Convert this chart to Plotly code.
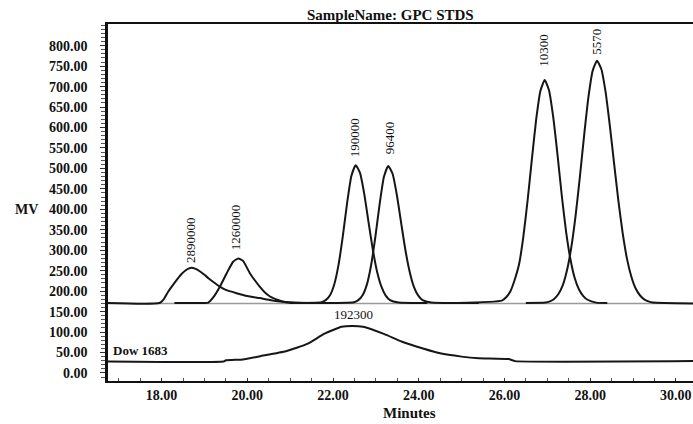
import plotly.graph_objects as go

# ---------------- data (minutes, MV) ----------------
baseline_x = [16.75, 30.40]
baseline_y = [170, 170]

p1_x = [16.75, 17.95, 18.05, 18.15, 18.25, 18.35, 18.45, 18.55, 18.63, 18.70, 18.78, 18.90, 19.00, 19.10,
        19.20, 19.36, 19.50, 19.75, 20.00, 20.29, 20.55, 20.83, 21.10, 21.40, 22.00]
p1_y = [171, 171, 180, 198, 213, 227, 240, 250, 255, 257, 255, 248, 240, 231,
        223, 211, 203, 195, 188, 183, 178, 174, 172, 171, 171]

p2_x = [18.30, 19.00, 19.09, 19.20, 19.36, 19.52, 19.67, 19.79, 19.90, 20.06, 20.18, 20.29, 20.40, 20.53,
        20.70, 20.84, 21.10, 21.80]
p2_y = [171, 171, 172, 184, 211, 244, 272, 280, 274, 244, 226, 211, 198, 187,
        179, 174, 171, 171]

p3_x = [21.00, 21.73, 21.83, 21.93, 22.03, 22.13, 22.23, 22.33, 22.43, 22.53, 22.63, 22.73, 22.83, 22.93,
        23.03, 23.13, 23.23, 23.33, 23.53, 24.20]
p3_y = [171, 173, 178, 190, 217, 265, 335, 416, 482, 508, 489, 437, 368, 301,
        247, 211, 189, 178, 172, 171]

p4_x = [21.60, 22.49, 22.59, 22.69, 22.79, 22.89, 22.99, 23.09, 23.19, 23.29, 23.39, 23.49, 23.59, 23.69,
        23.79, 23.89, 23.99, 24.09, 24.29, 25.40]
p4_y = [171, 173, 178, 190, 216, 264, 334, 414, 480, 506, 487, 435, 367, 300,
        247, 210, 189, 178, 172, 171]

p5_x = [24.90, 25.94, 26.04, 26.14, 26.24, 26.34, 26.44, 26.54, 26.64, 26.74, 26.84, 26.94, 27.04, 27.14,
        27.24, 27.34, 27.44, 27.54, 27.64, 27.74, 27.84, 27.94, 28.14, 28.40]
p5_y = [171, 177, 185, 200, 228, 265, 332, 421, 522, 619, 690, 716, 691, 624,
        532, 432, 344, 278, 232, 204, 188, 179, 172, 171]

p6_x = [26.50, 26.96, 27.06, 27.16, 27.26, 27.36, 27.46, 27.56, 27.66, 27.76, 27.86, 27.96, 28.06, 28.16,
        28.26, 28.36, 28.46, 28.56, 28.66, 28.76, 28.86, 28.96, 29.06, 29.16, 29.26, 29.36, 29.46, 30.40]
p6_y = [171, 172, 175, 181, 193, 214, 251, 307, 384, 479, 581, 674, 739, 763,
        743, 687, 604, 511, 420, 341, 279, 236, 207, 190, 180, 175, 172, 170]

dow_x = [16.75, 19.45, 19.50, 19.90, 20.30, 20.90, 21.40, 21.80, 22.20, 22.45, 22.70, 23.20, 23.60, 24.10,
         24.50, 25.00, 25.40, 26.10, 26.25, 30.40]
dow_y = [28, 28, 31, 33, 41, 53, 71, 96, 113, 115, 113, 95, 77, 60,
         48, 40, 36, 34, 29, 29]

peak_labels = ["2890000", "1260000", "190000", "96400", "10300", "5570"]
peak_label_x = [18.66, 19.71, 22.49, 23.31, 26.92, 28.13]
peak_label_y = [325, 356, 574, 574, 790, 809]
dow_peak_label = "192300"
dow_peak_label_x = 22.47
dow_peak_label_y = 142

x_tick_vals = [18, 20, 22, 24, 26, 28, 30]
y_tick_vals = list(range(0, 801, 50))

# ---------------- figure ----------------
SERIF = "Liberation Serif, Times New Roman, serif"
LINE = dict(color="#161616", width=2)

fig = go.Figure()
fig.add_trace(go.Scatter(x=baseline_x, y=baseline_y, mode="lines",
                         line=dict(color="#9a9a9a", width=1.5), hoverinfo="skip"))
for xs, ys in [(p1_x, p1_y), (p2_x, p2_y), (p3_x, p3_y), (p4_x, p4_y), (p5_x, p5_y), (p6_x, p6_y)]:
    fig.add_trace(go.Scatter(x=xs, y=ys, mode="lines", line=dict(shape="spline", smoothing=0.5, **LINE)))
fig.add_trace(go.Scatter(x=dow_x, y=dow_y, mode="lines", line=dict(shape="spline", smoothing=0.4, **LINE)))

annotations = []
for t, ax, ay in zip(peak_labels, peak_label_x, peak_label_y):
    annotations.append(dict(x=ax, y=ay, text=t, showarrow=False, textangle=-90,
                            xanchor="center", yanchor="middle",
                            font=dict(family=SERIF, size=13, color="#111")))
annotations.append(dict(x=dow_peak_label_x, y=dow_peak_label_y, text=dow_peak_label, showarrow=False,
                        xanchor="center", yanchor="middle",
                        font=dict(family=SERIF, size=13, color="#111")))
annotations.append(dict(x=16.82, y=54.5, text="<b>Dow 1683</b>", showarrow=False,
                        xanchor="left", yanchor="middle",
                        font=dict(family=SERIF, size=13, color="#111")))
annotations.append(dict(x=0.483, y=1.025, xref="paper", yref="paper", text="<b>SampleName: GPC STDS</b>",
                        showarrow=False, xanchor="center", yanchor="middle",
                        font=dict(family=SERIF, size=15, color="#111")))
annotations.append(dict(x=-0.1385, y=0.479, xref="paper", yref="paper", text="<b>MV</b>",
                        showarrow=False, xanchor="center", yanchor="middle",
                        font=dict(family=SERIF, size=14, color="#111")))
annotations.append(dict(x=0.516, y=-0.09, xref="paper", yref="paper", text="<b>Minutes</b>",
                        showarrow=False, xanchor="center", yanchor="middle",
                        font=dict(family=SERIF, size=15, color="#111")))

fig.update_layout(
    width=693, height=424,
    margin=dict(l=108, r=0, t=24, b=43),
    paper_bgcolor="white", plot_bgcolor="white",
    showlegend=False,
    annotations=annotations,
    font=dict(family=SERIF, color="#111"),
)
fig.update_xaxes(
    range=[16.75, 30.40], showgrid=False, zeroline=False,
    showline=True, linecolor="#111", linewidth=2, mirror=True,
    tickmode="array", tickvals=x_tick_vals, ticktext=[f"<b>{v:.2f}</b>" for v in x_tick_vals],
    ticks="inside", ticklen=3, tickcolor="#333", tickwidth=1,
    minor=dict(dtick=0.5, ticks="inside", ticklen=3, tickcolor="#555", tickwidth=1),
    tickfont=dict(family=SERIF, size=14, color="#111"),
)
fig.update_yaxes(
    range=[-19.6, 853], showgrid=False, zeroline=False,
    showline=True, linecolor="#111", linewidth=2.5,
    tickmode="array", tickvals=y_tick_vals, ticktext=[f"<b>{v:.2f}</b>" for v in y_tick_vals],
    ticks="outside", ticklen=5, tickcolor="#333", tickwidth=1,
    minor=dict(dtick=10, ticks="outside", ticklen=4, tickcolor="#555", tickwidth=1),
    tickfont=dict(family=SERIF, size=14, color="#111"),
    ticklabelstandoff=10,
)

fig.write_html("out.html")
